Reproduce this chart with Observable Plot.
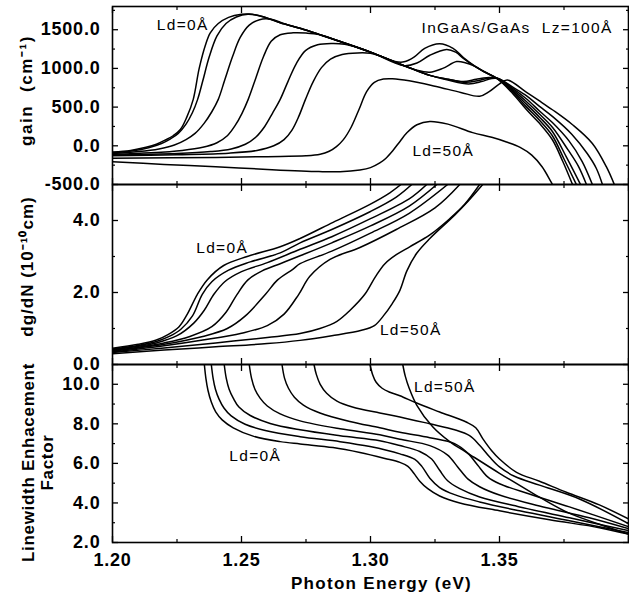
<!DOCTYPE html>
<html><head><meta charset="utf-8">
<script src="https://cdn.jsdelivr.net/npm/d3@7"></script>
<script src="https://cdn.jsdelivr.net/npm/@observablehq/plot@0.6"></script>
<style>
html,body{margin:0;padding:0;background:#fff;}
#chart{position:relative;width:629px;height:599px;overflow:hidden;}
#chart svg{position:absolute;left:0;top:0;}
</style></head><body><div id="chart"></div>
<script>
// ---------- tick values ----------
const energyTicks = [1.20, 1.25, 1.30, 1.35];
const energyMajor = [1.20, 1.25, 1.30, 1.35, 1.40];
const energyMinor = [1.225, 1.275, 1.325, 1.375];
const gainTicks = [-500, 0, 500, 1000, 1500];
const gainMinor = [-250, 250, 750, 1250, 1750];
const dgdnTicks = [0, 2, 4];
const dgdnMinor = [1, 3];
const alphaTicks = [2, 4, 6, 8, 10];
const alphaMinor = [3, 5, 7, 9];

const curveNames = ["curve 1 (Ld=0Å)", "curve 2", "curve 3", "curve 4", "curve 5", "curve 6", "curve 7", "curve 8 (Ld=50Å)"];

// ---------- gain (cm^-1) vs photon energy (eV) ----------
const gain1 = [[1.20,-80],[1.207,-60],[1.213,-20],[1.217,20],[1.2205,75],[1.2235,130],[1.2263,210],[1.2288,370],[1.2313,600],[1.2336,1000],[1.236,1300],[1.2379,1460],[1.241,1580],[1.245,1660],[1.25,1700],[1.253,1703],[1.258,1672],[1.265,1590],[1.273,1515],[1.28,1440],[1.288,1350],[1.30,1210],[1.3095,1090],[1.313,1085],[1.317,1150],[1.321,1260],[1.3268,1320],[1.332,1260],[1.336,1140],[1.3396,1050],[1.344,960],[1.349,870],[1.355,680],[1.3605,466],[1.3655,290],[1.3705,78],[1.3745,-200],[1.3783,-500]];
const gain2 = [[1.20,-90],[1.208,-65],[1.214,-25],[1.219,30],[1.2225,90],[1.2255,160],[1.2285,280],[1.231,430],[1.233,600],[1.235,840],[1.2375,1150],[1.2405,1420],[1.244,1580],[1.248,1665],[1.2525,1700],[1.258,1672],[1.265,1590],[1.273,1515],[1.28,1440],[1.288,1350],[1.30,1210],[1.313,1035],[1.318,1070],[1.323,1170],[1.3295,1244],[1.333,1210],[1.336,1130],[1.3396,1045],[1.344,958],[1.349,870],[1.355,700],[1.3605,500],[1.3655,330],[1.3705,130],[1.375,-170],[1.3798,-500]];
const gain3 = [[1.20,-100],[1.21,-75],[1.218,-40],[1.224,10],[1.2285,80],[1.232,160],[1.2355,290],[1.2385,440],[1.241,600],[1.2435,850],[1.2465,1150],[1.2495,1400],[1.253,1560],[1.257,1630],[1.2615,1635],[1.266,1585],[1.273,1515],[1.28,1440],[1.288,1350],[1.30,1210],[1.31,1075],[1.318,975],[1.323,950],[1.328,1000],[1.3334,1088],[1.337,1070],[1.3396,1040],[1.344,956],[1.349,870],[1.355,715],[1.3605,535],[1.3655,370],[1.3705,185],[1.376,-150],[1.3814,-500]];
const gain4 = [[1.20,-110],[1.215,-90],[1.227,-60],[1.235,-20],[1.2405,40],[1.2445,130],[1.2475,260],[1.2502,420],[1.2526,600],[1.2555,870],[1.2585,1150],[1.2615,1350],[1.265,1435],[1.27,1460],[1.275,1457],[1.28,1438],[1.288,1350],[1.30,1210],[1.315,1010],[1.323,910],[1.33,860],[1.336,830],[1.341,860],[1.345,880],[1.349,875],[1.355,730],[1.3605,570],[1.3655,410],[1.3705,240],[1.3765,-50],[1.3805,-260],[1.3837,-500]];
const gain5 = [[1.20,-120],[1.225,-100],[1.238,-75],[1.246,-40],[1.2515,20],[1.2555,110],[1.259,250],[1.262,420],[1.265,600],[1.268,830],[1.2712,1060],[1.2748,1230],[1.2795,1305],[1.285,1322],[1.29,1312],[1.295,1270],[1.30,1210],[1.315,1010],[1.323,910],[1.33,860],[1.337,820],[1.342,845],[1.346,875],[1.349,875],[1.355,745],[1.3605,605],[1.3655,450],[1.3705,300],[1.377,60],[1.382,-200],[1.386,-500]];
const gain6 = [[1.20,-130],[1.225,-115],[1.245,-95],[1.256,-60],[1.2625,0],[1.2665,80],[1.2695,200],[1.2722,380],[1.2748,600],[1.2778,830],[1.281,1010],[1.2845,1120],[1.289,1180],[1.295,1200],[1.30,1195],[1.305,1145],[1.31,1075],[1.315,1010],[1.323,910],[1.33,850],[1.338,800],[1.343,830],[1.347,870],[1.35,865],[1.355,760],[1.3605,645],[1.3655,510],[1.3705,380],[1.378,150],[1.384,-100],[1.3875,-290],[1.3899,-500]];
const gain7 = [[1.20,-160],[1.24,-150],[1.26,-140],[1.275,-130],[1.2805,-110],[1.284,-70],[1.2868,-10],[1.2895,80],[1.2925,240],[1.2955,466],[1.2985,700],[1.3015,820],[1.305,862],[1.3085,866],[1.315,840],[1.325,770],[1.335,690],[1.3423,640],[1.346,700],[1.35,800],[1.353,850],[1.3605,690],[1.3655,580],[1.3705,466],[1.3783,272],[1.386,30],[1.3914,-270],[1.3945,-500]];
const gain8 = [[1.20,-207],[1.22,-240],[1.24,-270],[1.26,-305],[1.28,-333],[1.2882,-335],[1.2959,-312],[1.30,-282],[1.3036,-222],[1.306,-160],[1.3087,-60],[1.3115,60],[1.3141,168],[1.318,272],[1.323,315],[1.33,280],[1.3396,170],[1.347,110],[1.3527,50],[1.358,-20],[1.3625,-120],[1.3665,-270],[1.3705,-500]];

// ---------- dg/dN (1e-10 cm) ----------
const dgdn1 = [[1.20,0.45],[1.21,0.56],[1.217,0.68],[1.2215,0.83],[1.2258,1.05],[1.229,1.4],[1.2329,1.95],[1.2367,2.35],[1.2431,2.75],[1.2522,3.0],[1.265,3.27],[1.2727,3.5],[1.2855,3.95],[1.2998,4.45],[1.3075,4.77],[1.3118,5.0]];
const dgdn2 = [[1.20,0.43],[1.21,0.53],[1.217,0.64],[1.222,0.78],[1.2265,0.98],[1.231,1.35],[1.2348,1.95],[1.2385,2.3],[1.245,2.62],[1.2534,2.85],[1.265,3.1],[1.2727,3.38],[1.285,3.75],[1.30,4.25],[1.31,4.65],[1.316,5.0]];
const dgdn3 = [[1.20,0.41],[1.21,0.51],[1.217,0.6],[1.225,0.8],[1.2315,1.15],[1.2355,1.5],[1.2393,1.95],[1.2435,2.3],[1.25,2.58],[1.26,2.83],[1.2727,3.2],[1.285,3.55],[1.30,4.05],[1.315,4.6],[1.3218,5.0]];
const dgdn4 = [[1.20,0.39],[1.21,0.48],[1.22,0.6],[1.23,0.78],[1.2385,1.05],[1.244,1.45],[1.2483,1.95],[1.2525,2.35],[1.258,2.6],[1.265,2.8],[1.2727,3.02],[1.285,3.38],[1.30,3.85],[1.315,4.4],[1.3257,5.0]];
const dgdn5 = [[1.20,0.37],[1.21,0.46],[1.22,0.56],[1.235,0.78],[1.2445,1.0],[1.2515,1.35],[1.2593,1.95],[1.264,2.35],[1.27,2.65],[1.2727,2.8],[1.285,3.15],[1.30,3.65],[1.315,4.2],[1.3299,5.0]];
const dgdn6 = [[1.20,0.35],[1.21,0.43],[1.22,0.52],[1.235,0.68],[1.25,0.87],[1.26,1.08],[1.2665,1.4],[1.2722,1.95],[1.2765,2.45],[1.2843,2.92],[1.2959,3.25],[1.31,3.75],[1.325,4.35],[1.3346,5.0]];
const dgdn7 = [[1.20,0.33],[1.22,0.46],[1.24,0.6],[1.26,0.75],[1.2727,0.86],[1.2804,1.0],[1.287,1.2],[1.292,1.5],[1.2978,1.95],[1.302,2.45],[1.3056,2.8],[1.31,3.05],[1.3152,3.27],[1.323,3.6],[1.3307,4.05],[1.3365,4.45],[1.3423,5.0]];
const dgdn8 = [[1.20,0.30],[1.22,0.40],[1.24,0.49],[1.26,0.58],[1.2727,0.67],[1.285,0.8],[1.2965,0.95],[1.3015,1.08],[1.305,1.35],[1.3085,1.7],[1.3114,2.06],[1.3141,2.6],[1.3179,3.09],[1.323,3.5],[1.3326,4.15],[1.338,4.55],[1.3435,5.0]];

// ---------- linewidth enhancement factor ----------
const alpha1 = [[1.2356,11],[1.2362,10.3],[1.237,9.7],[1.2383,9.1],[1.24,8.6],[1.2425,8.2],[1.2468,7.8],[1.2545,7.38],[1.265,7.1],[1.2727,6.98],[1.2855,6.8],[1.2959,6.55],[1.3056,6.25],[1.3114,6.05],[1.3145,5.85],[1.3168,5.5],[1.3191,5.1],[1.3222,4.72],[1.3268,4.35],[1.3346,4.0],[1.35,3.6],[1.3694,3.15],[1.3887,2.75],[1.40,2.42]];
const alpha2 = [[1.2383,11],[1.239,10.3],[1.2399,9.75],[1.2413,9.25],[1.2432,8.8],[1.246,8.4],[1.2514,7.98],[1.2592,7.66],[1.2727,7.35],[1.2882,7.1],[1.2998,6.85],[1.3114,6.48],[1.3172,6.2],[1.3199,5.85],[1.323,5.25],[1.3268,4.78],[1.3326,4.42],[1.3423,4.05],[1.3578,3.6],[1.3771,3.1],[1.40,2.5]];
const alpha3 = [[1.2433,11],[1.2441,10.3],[1.2452,9.75],[1.2468,9.3],[1.249,8.85],[1.2534,8.42],[1.2611,8.02],[1.2727,7.7],[1.2882,7.4],[1.3036,7.15],[1.3114,6.9],[1.3191,6.6],[1.3237,6.22],[1.3268,5.65],[1.3299,5.12],[1.3346,4.72],[1.3423,4.3],[1.3578,3.8],[1.3771,3.25],[1.40,2.6]];
const alpha4 = [[1.253,11],[1.2539,10.3],[1.2552,9.75],[1.2572,9.3],[1.26,8.9],[1.265,8.5],[1.2727,8.15],[1.2882,7.75],[1.3036,7.45],[1.3114,7.22],[1.323,6.9],[1.3299,6.42],[1.3338,5.82],[1.3377,5.22],[1.3423,4.82],[1.35,4.4],[1.3655,3.85],[1.3848,3.25],[1.40,2.7]];
const alpha5 = [[1.2657,11],[1.2667,10.3],[1.2682,9.8],[1.2705,9.35],[1.274,8.95],[1.2804,8.55],[1.292,8.12],[1.3036,7.8],[1.3114,7.57],[1.323,7.3],[1.3326,7.0],[1.3377,6.52],[1.3415,5.92],[1.3454,5.32],[1.35,4.97],[1.3616,4.45],[1.3771,3.8],[1.40,2.8]];
const alpha6 = [[1.2781,11],[1.279,10.5],[1.2805,10.0],[1.283,9.55],[1.287,9.15],[1.293,8.85],[1.3036,8.55],[1.3114,8.35],[1.323,8.0],[1.3326,7.7],[1.3384,7.4],[1.3423,6.92],[1.3462,6.32],[1.35,5.82],[1.3558,5.35],[1.3655,4.9],[1.381,4.2],[1.40,2.95]];
const alpha7 = [[1.2998,11],[1.3008,10.5],[1.3022,10.1],[1.3045,9.8],[1.3075,9.6],[1.3114,9.42],[1.3179,9.05],[1.3268,8.6],[1.3373,8.08],[1.3408,7.8],[1.3435,7.25],[1.3469,6.65],[1.35,6.22],[1.3566,5.55],[1.3655,5.1],[1.3759,4.54],[1.3887,3.9],[1.40,3.19]];
const alpha8 = [[1.3125,11],[1.3135,10.4],[1.315,9.8],[1.3179,8.95],[1.3241,7.85],[1.3307,7.1],[1.3373,6.55],[1.35,5.5],[1.3628,4.5],[1.3759,3.55],[1.3887,2.92],[1.40,2.42]];

// ---------- build tables ----------
const toRows = curves => curves.flatMap((pts, i) => pts.map(([E, v]) => ({s: curveNames[i], E, v})));
const gainRows = toRows([gain1, gain2, gain3, gain4, gain5, gain6, gain7, gain8]);
const dgdnRows = toRows([dgdn1, dgdn2, dgdn3, dgdn4, dgdn5, dgdn6, dgdn7, dgdn8]);
const alphaRows = toRows([alpha1, alpha2, alpha3, alpha4, alpha5, alpha6, alpha7, alpha8]);

const W = 629, H = 599;
const FONT = "'Liberation Sans', Arial, Helvetica, sans-serif";

function panel({rows, yDomain, top, bottom, yMajor, yMinor, title, titleDx, titleDy, titleSpacing, notes, xLabels}) {
  const marks = [
    Plot.line(rows, {x: "E", y: "v", z: "s", stroke: "black", strokeWidth: 1.5, curve: "catmull-rom", clip: true}),
    Plot.frame({stroke: "black", strokeWidth: 1.6}),
    Plot.axisY(yMajor, {anchor: "left", tickSize: 6, dx: 6, fill: null, strokeWidth: 1.3, label: null}),
    Plot.axisY(yMinor, {anchor: "left", tickSize: 3, dx: 3, fill: null, strokeWidth: 1.2, label: null}),
    Plot.axisY(yMajor, {anchor: "right", tickSize: 6, dx: -6, fill: null, strokeWidth: 1.3, label: null}),
    Plot.axisY(yMinor, {anchor: "right", tickSize: 3, dx: -3, fill: null, strokeWidth: 1.2, label: null}),
    Plot.axisX(energyMajor, {anchor: "bottom", tickSize: 6, dy: -6, fill: null, strokeWidth: 1.3, label: null}),
    Plot.axisX(energyMinor, {anchor: "bottom", tickSize: 3, dy: -3, fill: null, strokeWidth: 1.2, label: null}),
    Plot.axisX(energyMajor, {anchor: "top", tickSize: 6, dy: 6, fill: null, strokeWidth: 1.3, label: null}),
    Plot.axisX(energyMinor, {anchor: "top", tickSize: 3, dy: 3, fill: null, strokeWidth: 1.2, label: null}),
    Plot.axisY(yMajor, {anchor: "left", tickSize: 0, tickPadding: 12, tickFormat: d => d.toFixed(1), fontSize: 18, fontWeight: "bold", label: null}),
    Plot.text([title], {frameAnchor: "left", rotate: -90, dx: titleDx, dy: titleDy, lineAnchor: "bottom", textAnchor: "middle", fontSize: 17, fontWeight: "bold", lineHeight: 1.08, className: "ptitle"}),
    Plot.text(notes, {x: "x", y: "y", text: "t", textAnchor: "middle", lineAnchor: "bottom", fontSize: 15.5, className: "pnote"})
  ];
  if (xLabels) {
    marks.push(Plot.axisX(energyTicks, {anchor: "bottom", tickSize: 0, tickPadding: 11, tickFormat: d => d.toFixed(2), fontSize: 18, fontWeight: "bold", label: null}));
    marks.push(Plot.text(["Photon Energy (eV)"], {frameAnchor: "bottom", dx: 11, dy: 46, lineAnchor: "bottom", textAnchor: "middle", fontSize: 17, fontWeight: "bold", className: "xtitle"}));
  }
  const svg = Plot.plot({
    width: W, height: H,
    marginLeft: 112, marginRight: 1, marginTop: top, marginBottom: H - bottom,
    x: {domain: [1.20, 1.40], label: null},
    y: {domain: yDomain, label: null},
    style: {background: "transparent", fontFamily: FONT, color: "black", overflow: "visible"},
    marks
  });
  svg.querySelectorAll("text").forEach(t => t.style.letterSpacing = "0.8px");
  svg.querySelectorAll(".pnote text").forEach(t => t.style.letterSpacing = "1.3px");
  svg.querySelectorAll(".ptitle text").forEach(t => t.style.letterSpacing = titleSpacing);
  svg.querySelectorAll(".xtitle text").forEach(t => t.style.letterSpacing = "1.3px");
  return svg;
}

const chart = document.getElementById("chart");
chart.appendChild(panel({
  rows: gainRows, yDomain: [-500, 1800], top: 6, bottom: 184,
  yMajor: gainTicks, yMinor: gainMinor,
  title: "gain\u00a0\u00a0(cm\u207b\u00b9)", titleDx: -81, titleDy: -5, titleSpacing: "1.6px",
  notes: [
    {x: 1.2272, y: 1490, t: "Ld=0Å"},
    {x: 1.3568, y: 1464, t: "InGaAs/GaAs\u00a0\u00a0Lz=100Å"},
    {x: 1.3282, y: -138, t: "Ld=50Å"}
  ]
}));
chart.appendChild(panel({
  rows: dgdnRows, yDomain: [0, 5], top: 184, bottom: 364,
  yMajor: dgdnTicks, yMinor: dgdnMinor,
  title: "dg/dN (10\u207b\u00b9\u2070cm)", titleDx: -80, titleDy: -8, titleSpacing: "1px",
  notes: [
    {x: 1.2425, y: 3.11, t: "Ld=0Å"},
    {x: 1.3156, y: 0.83, t: "Ld=50Å"}
  ]
}));
chart.appendChild(panel({
  rows: alphaRows, yDomain: [2, 11], top: 364, bottom: 542,
  yMajor: alphaTicks, yMinor: alphaMinor,
  title: "Linewidth Enhacement\nFactor", titleDx: -60, titleDy: 9, titleSpacing: "0.7px",
  notes: [
    {x: 1.2553, y: 6.10, t: "Ld=0Å"},
    {x: 1.3288, y: 9.63, t: "Ld=50Å"}
  ],
  xLabels: true
}));
</script></body></html>
